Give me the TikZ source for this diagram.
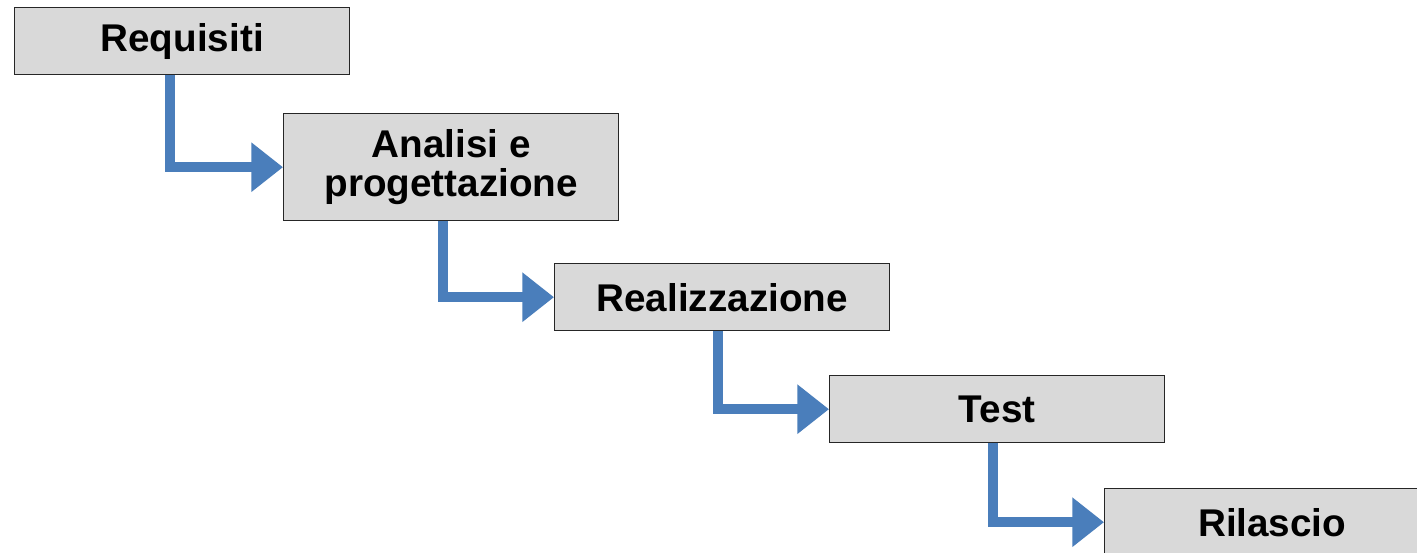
\documentclass[tikz,border=0pt]{standalone}
\usepackage{fontspec}
\setmainfont{Liberation Sans}
\usetikzlibrary{arrows.meta,positioning}
\definecolor{boxgray}{RGB}{217,217,217}
\definecolor{flowblue}{RGB}{74,126,187}
\newcommand{\boxw}{335}
\tikzset{
    stagesty/.style={draw=black!85,fill=boxgray,line width=0.8pt,rectangle,anchor=north west,
                     minimum width=\boxw*0.02cm,minimum height=67*0.02cm,inner sep=0pt,
                     align=center,font=\fontsize{22}{22}\selectfont\bfseries},
    flowsty/.style={draw=flowblue,line width=5.6pt,-{Triangle[length=18pt,width=27pt]}},
}

\begin{document}
\begin{tikzpicture}[x=0.02cm,y=-0.02cm]
  \clip (0,0) rectangle (1417,552);
  \fill[white] (0,0) rectangle (1417,552);

  \node[stagesty] (req) at (14,7) {Requisiti};
  \node[stagesty,minimum height=107*0.02cm] (ana) at (283,113) {Analisi e\\progettazione};
  \node[stagesty] (rea) at (554,263) {Realizzazione};
  \node[stagesty] (tst) at (829,375) {Test};
  \node[stagesty] (ril) at (1104,488) {Rilascio};

  \draw[flowsty] ([shift={(-12,0)}]req.south) |- (ana.west);
  \draw[flowsty] ([shift={(-8,0)}]ana.south) |- (rea.west);
  \draw[flowsty] ([shift={(-4,0)}]rea.south) |- (tst.west);
  \draw[flowsty] ([shift={(-4,0)}]tst.south) |- (ril.west);
\end{tikzpicture}
\end{document}
